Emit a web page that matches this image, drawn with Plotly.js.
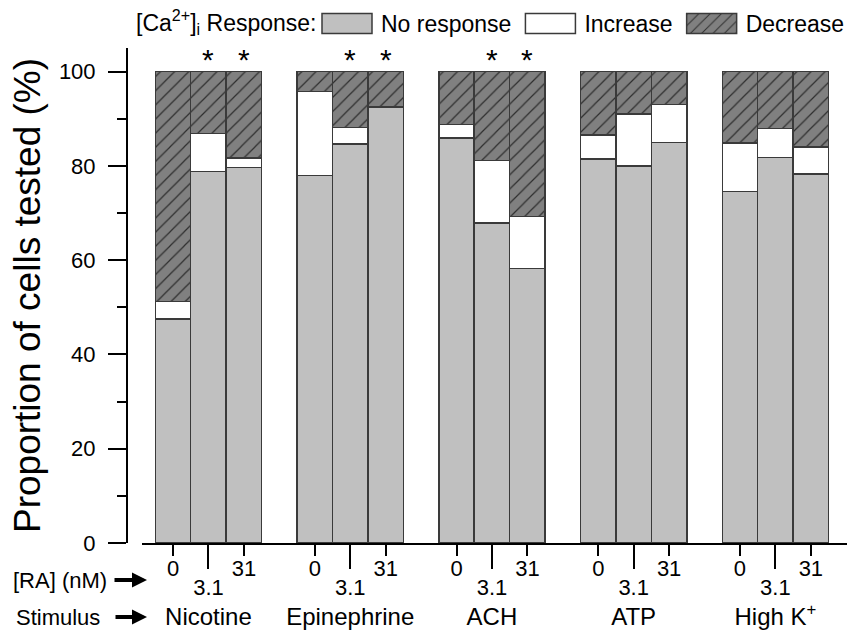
<!DOCTYPE html>
<html>
<head>
<meta charset="utf-8">
<script src="https://cdn.plot.ly/plotly-3.0.1.min.js"></script>
<style>html,body{margin:0;padding:0;background:#fff;}#chart{width:856px;height:632px;}</style>
</head>
<body>
<div id="chart"></div>
<script>
// ---- data ----
var stimuli = ['Nicotine', 'Epinephrine', 'ACH', 'ATP', 'High K<sup>+</sup>'];
var raLevels = ['0', '3.1', '31'];
// percentages, ordered stimulus by stimulus, RA 0 / 3.1 / 31
var noResponse = [47.5, 78.8, 79.6, 78.0, 84.6, 92.5, 85.9, 67.9, 58.2, 81.5, 80.0, 85.0, 74.6, 81.8, 78.3];
var increase   = [3.7, 8.1, 2.1, 17.8, 3.5, 0.0, 2.9, 13.2, 11.1, 5.0, 11.0, 8.0, 10.3, 6.1, 5.7];
var decrease   = [48.8, 13.1, 18.3, 4.2, 11.9, 7.5, 11.2, 18.9, 30.7, 13.5, 9.0, 7.0, 15.1, 12.1, 16.0];
// significance marks (*) per bar
var significant = [0, 1, 1, 0, 1, 1, 0, 1, 1, 0, 0, 0, 0, 0, 0];
var yTickVals = [0, 20, 40, 60, 80, 100];

// ---- bar positions (one empty slot between stimulus groups) ----
var xpos = [], tickA = [], tickAText = [], tickB = [], tickBText = [], groupPos = [];
stimuli.forEach(function (s, gi) {
  raLevels.forEach(function (r, ri) {
    var p = gi * 4 + ri;
    xpos.push(p);
    if (r === '3.1') { tickB.push(p); tickBText.push(r); }
    else { tickA.push(p); tickAText.push(r); }
  });
  groupPos.push(gi * 4 + 1);
});

var fontFam = 'Liberation Sans, Arial, sans-serif';
var outline = {color: '#3a3a3a', width: 1.5};

var traces = [
  {type: 'bar', name: 'No response', x: xpos, y: noResponse,
   marker: {color: '#c0c0c0', line: outline}, hoverinfo: 'skip'},
  {type: 'bar', name: 'Increase', x: xpos, y: increase,
   marker: {color: '#ffffff', line: outline}, hoverinfo: 'skip'},
  {type: 'bar', name: 'Decrease', x: xpos, y: decrease,
   marker: {color: '#808080', line: outline,
            pattern: {shape: '/', fgcolor: '#2e2e2e', bgcolor: '#808080', size: 10, solidity: 0.12}},
   hoverinfo: 'skip'}
];

var xr = [-0.884, 19.02];
var W = 720, H = 495, L = 127, T = 48;
function px(xp) { return (xp - L) / W; }
function py(yp) { return (T + H - yp) / H; }

var annotations = [];
significant.forEach(function (s, i) {
  if (s) annotations.push({xref: 'x', yref: 'y', x: xpos[i], y: 102.5, text: '*',
    showarrow: false, font: {size: 30, color: '#000', family: fontFam}});
});
annotations.push({xref: 'paper', yref: 'paper', x: px(147), y: py(580), ax: -87, ay: 0,
  text: '[RA] (nM)', showarrow: true, arrowhead: 2, arrowsize: 0.75, arrowwidth: 4,
  arrowcolor: '#000', startstandoff: 6, font: {size: 22, color: '#000', family: fontFam}});
annotations.push({xref: 'paper', yref: 'paper', x: px(147), y: py(617), ax: -89, ay: 0,
  text: 'Stimulus', showarrow: true, arrowhead: 2, arrowsize: 0.75, arrowwidth: 4,
  arrowcolor: '#000', startstandoff: 14, font: {size: 22, color: '#000', family: fontFam}});
// legend heading
annotations.push({xref: 'paper', yref: 'paper', x: px(134), y: py(22), xanchor: 'left', yanchor: 'middle',
  text: '[Ca<sup>2+</sup>]<sub>i</sub> Response:', showarrow: false,
  font: {size: 23, color: '#000', family: fontFam}});

var layout = {
  width: 856, height: 632,
  margin: {l: L, r: 856 - L - W, t: T, b: 632 - T - H, pad: 0, autoexpand: false},
  paper_bgcolor: '#fff', plot_bgcolor: '#fff',
  font: {family: fontFam, color: '#000', size: 22},
  barmode: 'stack', bargap: 0,
  showlegend: true,
  legend: {orientation: 'h', xref: 'container', yref: 'container',
    x: 313 / 856, xanchor: 'left', y: 1 - 2 / 632, yanchor: 'top',
    font: {size: 23, color: '#000', family: fontFam}, itemwidth: 58, itemclick: false, itemdoubleclick: false,
    bgcolor: 'rgba(0,0,0,0)', traceorder: 'normal'},
  xaxis: {range: xr, domain: [px(141.7), 1], showgrid: false, zeroline: false,
    showline: true, linecolor: '#000', linewidth: 2,
    tickmode: 'array', tickvals: tickA, ticktext: tickAText,
    ticks: 'outside', ticklen: 11, tickwidth: 2, tickcolor: '#000',
    ticklabelstandoff: -6, tickfont: {size: 22}, fixedrange: true},
  xaxis2: {overlaying: 'x', anchor: 'y', range: xr, showgrid: false, zeroline: false, showline: false,
    tickmode: 'array', tickvals: tickB, ticktext: tickBText,
    ticks: 'outside', ticklen: 25, tickwidth: 2, tickcolor: '#000',
    tickfont: {size: 22}, fixedrange: true},
  xaxis3: {overlaying: 'x', anchor: 'y', range: xr, showgrid: false, zeroline: false, showline: false,
    tickmode: 'array', tickvals: groupPos, ticktext: stimuli,
    ticks: '', ticklabelstandoff: 57, tickfont: {size: 24}, fixedrange: true},
  yaxis: {range: [0, 105], anchor: 'free', position: 0, showgrid: false, zeroline: false,
    showline: true, linecolor: '#000', linewidth: 2,
    tickmode: 'array', tickvals: yTickVals,
    ticks: 'outside', ticklen: 18, tickwidth: 2, tickcolor: '#000',
    ticklabelstandoff: 8, tickfont: {size: 22},
    minor: {tickmode: 'array', tickvals: [10, 30, 50, 70, 90], ticks: 'outside', ticklen: 9, tickwidth: 2, tickcolor: '#000', showgrid: false},
    title: {text: 'Proportion of cells tested (%)', font: {size: 37, color: '#000'}, standoff: 6},
    fixedrange: true},
  annotations: annotations
};

// invisible traces to activate overlay axes
traces.push({type: 'scatter', x: [xr[0]], y: [0], xaxis: 'x2', mode: 'none', showlegend: false, hoverinfo: 'skip'});
traces.push({type: 'scatter', x: [xr[0]], y: [0], xaxis: 'x3', mode: 'none', showlegend: false, hoverinfo: 'skip'});

Plotly.newPlot('chart', traces, layout, {displayModeBar: false, staticPlot: true}).then(function (gd) {
  // larger legend swatches (50 x 20) like the reference
  gd.querySelectorAll('.legend .legendpoints path').forEach(function (p) {
    p.setAttribute('d', 'M25,10H-25V-10H25Z');
  });
});
</script>
</body>
</html>
